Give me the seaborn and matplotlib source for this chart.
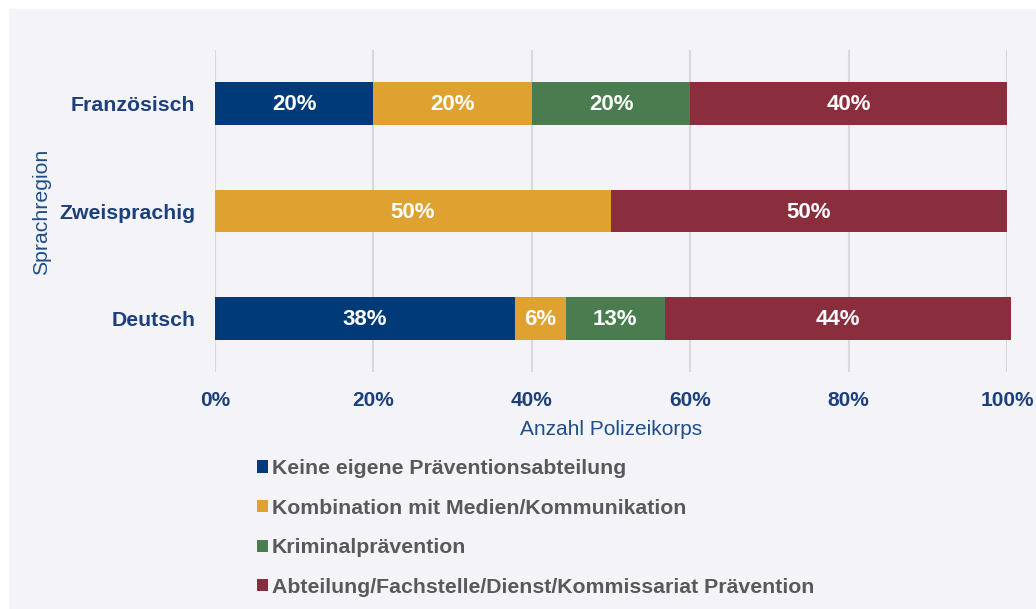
import numpy as np
import pandas as pd
import matplotlib
matplotlib.use("Agg")
import matplotlib.pyplot as plt
from matplotlib.patches import Patch, Rectangle
import seaborn as sns

regions = ["Französisch", "Zweisprachig", "Deutsch"]
series = ["Keine eigene Präventionsabteilung",
          "Kombination mit Medien/Kommunikation",
          "Kriminalprävention",
          "Abteilung/Fachstelle/Dienst/Kommissariat Prävention"]
keine = [20.0, 0.0, 37.9]
kombination = [20.0, 50.0, 6.4]
kriminal = [20.0, 0.0, 12.5]
abteilung = [40.0, 50.0, 43.7]
colors = ["#003a78", "#dfa230", "#4a7c4f", "#8a2e3e"]
xticks = [0, 20, 40, 60, 80, 100]

sns.set_theme(style="white")
plt.rcParams['font.family'] = ['Liberation Sans', 'DejaVu Sans']

navy = "#1d3f7c"
bg = "#f3f3f8"

fig = plt.figure(figsize=(10.36, 6.09), dpi=100, facecolor="white")
fig.patches.append(Rectangle((9/1036, 0), 1, 1 - 9/609, transform=fig.transFigure,
                             facecolor=bg, edgecolor="none", zorder=-10))
ax = fig.add_axes([215/1036, 1 - 372/609, 792/1036, 322/609])
ax.set_facecolor(bg)
ax.patch.set_alpha(0)

vals = np.array([keine, kombination, kriminal, abteilung])
cum = np.cumsum(vals, axis=0)

for i in range(3, -1, -1):
    df = pd.DataFrame({"region": regions, "value": cum[i]})
    sns.barplot(data=df, y="region", x="value", order=regions, orient="h",
                color=colors[i], width=0.4, saturation=1, ax=ax,
                edgecolor="none", linewidth=0, zorder=3)
for p in ax.patches:
    p.set_clip_on(False)

for i in range(4):
    for j in range(3):
        v = vals[i, j]
        if v > 0:
            start = cum[i, j] - v
            ax.text(start + v / 2, j + 0.01, f"{int(v + 0.5)}%", ha="center", va="center",
                    color="white", fontsize=16, fontweight="bold", zorder=5)

ax.set_xlim(0, 100)
ax.set_ylim(2.5, -0.5)
ax.set_xticks(xticks)
ax.set_xticklabels([f"{t}%" for t in xticks], fontsize=15, fontweight="bold", color=navy)
ax.set_yticks(range(3))
ax.set_yticklabels(regions, fontsize=15.3, fontweight="bold", color=navy)
ax.tick_params(axis="x", length=0, pad=14)
ax.tick_params(axis="y", length=0, pad=14)
ax.grid(axis="x", color="#d9d9d9", linewidth=1.5, zorder=0)
ax.set_axisbelow(True)
for s in ax.spines.values():
    s.set_visible(False)

ax.set_xlabel("Anzahl Polizeikorps", fontsize=15, color="#1f4e8c", labelpad=7)
ax.set_ylabel("")
fig.text(42/1036, 1 - 212/609, "Sprachregion", rotation=90, ha="center", va="center",
         fontsize=15.3, color="#1f4e8c")

handles = [Patch(facecolor=c, edgecolor="none") for c in colors]
fig.legend(handles, series, loc="upper left", bbox_to_anchor=(257/1036, 1 - 459/609),
           frameon=False, handlelength=0.5, handleheight=0.5, handletextpad=0.2,
           labelspacing=0.97, borderaxespad=0, borderpad=0,
           prop={"family": "Liberation Sans", "weight": "bold", "size": 15.3},
           labelcolor="#595959")

fig.savefig("out.png", dpi=100, facecolor=fig.get_facecolor())
